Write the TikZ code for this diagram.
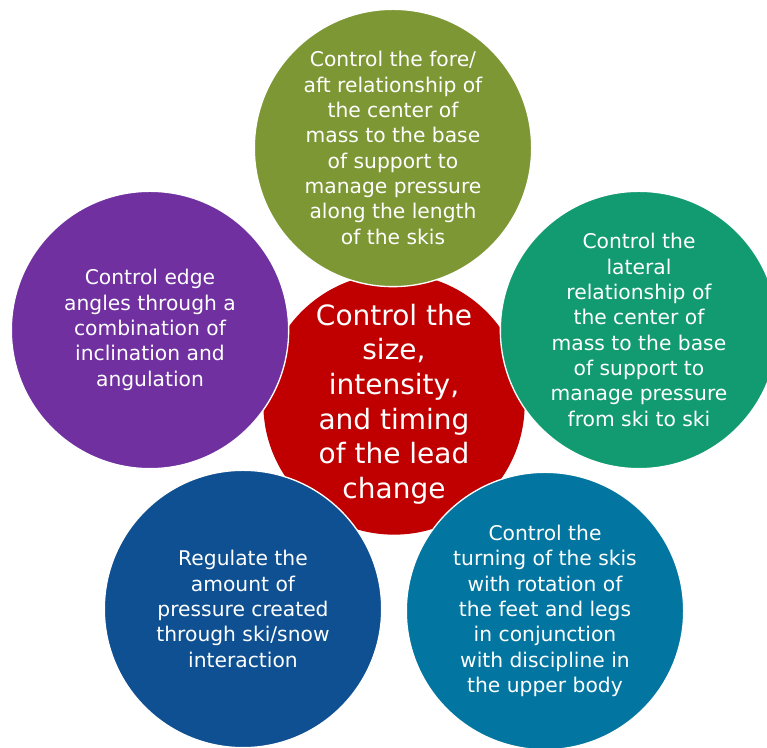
\documentclass[tikz,border=0pt]{standalone}
\usepackage{fontspec}
\setmainfont{DejaVu Sans}
\definecolor{hubred}{HTML}{C00000}
\definecolor{olive}{HTML}{7E9735}
\definecolor{jade}{HTML}{129B70}
\definecolor{plum}{HTML}{7030A0}
\definecolor{navy}{HTML}{0E5091}
\definecolor{ocean}{HTML}{0276A0}
\tikzset{hub/.style={circle,fill=hubred,text=white,align=center,minimum size=196pt,inner sep=0pt,font=\fontsize{21}{26}\selectfont},
bubble/.style={circle,draw=white,line width=1pt,text=white,align=center,minimum size=208pt,inner sep=0pt,font=\fontsize{15.2}{19}\selectfont}}
\begin{document}
\begin{tikzpicture}[x=0.75pt,y=0.75pt]
\useasboundingbox(0,0)rectangle(767,748);
\node[hub](lead)at(394,344){Control the\\size,\\intensity,\\and timing\\of the lead\\change};
\node[bubble,fill=olive](foreaft)at(393,600){Control the fore/\\aft relationship of\\the center of\\mass to the base\\of support to\\manage pressure\\along the length\\of the skis};
\node[bubble,fill=jade](lateral)at(639,418){Control the\\lateral\\relationship of\\the center of\\mass to the base\\of support to\\manage pressure\\from ski to ski};
\node[bubble,fill=plum](edge)at(150,418){Control edge\\angles through a\\combination of\\inclination and\\angulation};
\node[bubble,fill=navy](pressure)at(243,139){Regulate the\\amount of\\pressure created\\through ski/snow\\interaction};
\node[bubble,fill=ocean](turning)at(545,137){Control the\\turning of the skis\\with rotation of\\the feet and legs\\in conjunction\\with discipline in\\the upper body};
\end{tikzpicture}
\end{document}
